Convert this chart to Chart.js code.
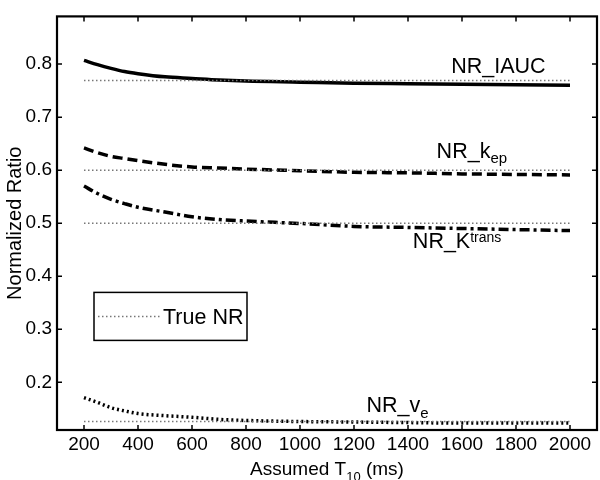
<!DOCTYPE html>
<html>
<head>
<meta charset="utf-8">
<script src="https://cdn.jsdelivr.net/npm/chart.js@4.4.1/dist/chart.umd.min.js"></script>
<style>
  body { margin: 0; background: #fff; }
  #c { display: block; }
</style>
</head>
<body>
<canvas id="c" width="600" height="480"></canvas>
<script>
// assumed T10 values (ms)
const t10 = [200, 250, 300, 350, 400, 500, 600, 700, 800, 1000, 1200, 1400, 1600, 1800, 2000];
const nrIAUC   = [0.807, 0.799, 0.792, 0.786, 0.782, 0.776, 0.773, 0.770, 0.768, 0.766, 0.764, 0.763, 0.762, 0.761, 0.760];
const nrKep    = [0.642, 0.633, 0.626, 0.622, 0.618, 0.611, 0.606, 0.604, 0.602, 0.599, 0.596, 0.595, 0.593, 0.592, 0.591];
const nrKtrans = [0.570, 0.556, 0.545, 0.537, 0.530, 0.521, 0.512, 0.507, 0.504, 0.4995, 0.494, 0.492, 0.490, 0.488, 0.486];
const nrVe     = [0.171, 0.162, 0.152, 0.146, 0.141, 0.137, 0.134, 0.130, 0.128, 0.126, 0.125, 0.124, 0.123, 0.123, 0.123];

// true normalized ratios
const trueX  = [200, 2000];
const trueNR = [0.769, 0.600, 0.500, 0.126];

const xTicks = [200, 400, 600, 800, 1000, 1200, 1400, 1600, 1800, 2000];
const yTicks = [0.2, 0.3, 0.4, 0.5, 0.6, 0.7, 0.8];

const FONT = '"Liberation Sans", Arial, sans-serif';

function pts(ys) {
    return t10.map((x, i) => ({x: x, y: ys[i]}));
}

function curve(label, ys, dash, width) {
    return {
        label: label,
        data: pts(ys),
        borderColor: '#000',
        borderWidth: width,
        borderDash: dash,
        pointRadius: 0,
        cubicInterpolationMode: 'monotone',
        fill: false
    };
}

const datasets = trueNR.map((v, i) => ({
    label: 'True NR ' + i,
    data: trueX.map(x => ({x: x, y: v})),
    borderColor: '#777',
    borderWidth: 1.5,
    borderDash: [1.5, 2.5],
    pointRadius: 0,
    fill: false
}));
datasets.push(curve('NR_IAUC', nrIAUC, [], 3.5));
datasets.push(curve('NR_kep', nrKep, [10, 5], 3.5));
datasets.push(curve('NR_Ktrans', nrKtrans, [10, 4, 3, 4], 3.5));
datasets.push(curve('NR_ve', nrVe, [2, 3], 3.5));

// text pieces with sub/superscripts, placed in data coordinates
const notes = [
    {x: 1560, y: 0.783, parts: [{t: 'NR_IAUC', s: 21.5}]},
    {x: 1506, y: 0.623, parts: [{t: 'NR_k', s: 21.5}, {t: 'ep', s: 15, dy: 5}]},
    {x: 1418, y: 0.453, parts: [{t: 'NR_K', s: 21.5}, {t: 'trans', s: 14, dy: -6}]},
    {x: 1246, y: 0.1442, parts: [{t: 'NR_v', s: 21.5}, {t: 'e', s: 15, dy: 6}]}
];

function drawRich(ctx, parts, x, y, align) {
    let w = 0;
    parts.forEach(p => {
        ctx.font = p.s + 'px ' + FONT;
        p.w = ctx.measureText(p.t).width;
        w += p.w;
    });
    let cx = align === 'center' ? x - w / 2 : x;
    parts.forEach(p => {
        ctx.font = p.s + 'px ' + FONT;
        ctx.fillText(p.t, cx, y + (p.dy || 0));
        cx += p.w;
    });
}

const frame = {
    id: 'frame',
    afterDraw(chart) {
        const ctx = chart.ctx;
        const a = chart.chartArea;
        const xs = chart.scales.x, ys = chart.scales.y;
        ctx.save();
        ctx.strokeStyle = '#000';
        ctx.lineWidth = 2.2;
        ctx.strokeRect(a.left, a.top, a.right - a.left, a.bottom - a.top);
        // inward ticks
        ctx.lineWidth = 1.5;
        ctx.beginPath();
        xs.ticks.forEach(t => {
            const px = xs.getPixelForValue(t.value);
            ctx.moveTo(px, a.bottom); ctx.lineTo(px, a.bottom - 5);
            ctx.moveTo(px, a.top); ctx.lineTo(px, a.top + 5);
        });
        ys.ticks.forEach(t => {
            const py = ys.getPixelForValue(t.value);
            ctx.moveTo(a.left, py); ctx.lineTo(a.left + 5, py);
            ctx.moveTo(a.right, py); ctx.lineTo(a.right - 5, py);
        });
        ctx.stroke();

        ctx.fillStyle = '#000';
        ctx.textBaseline = 'alphabetic';
        notes.forEach(n => {
            drawRich(ctx, n.parts, xs.getPixelForValue(n.x), ys.getPixelForValue(n.y), 'left');
        });

        // x axis title with subscript
        drawRich(ctx, [{t: 'Assumed T', s: 19}, {t: '10', s: 13, dy: 6}, {t: ' (ms)', s: 19}],
            (a.left + a.right) / 2, 475, 'center');

        // legend box
        const lx = a.left + 37, ly = a.top + 276;
        ctx.lineWidth = 1.5;
        ctx.strokeRect(lx, ly, 153, 48);
        ctx.strokeStyle = '#777';
        ctx.setLineDash([1.5, 2.5]);
        ctx.beginPath();
        ctx.moveTo(lx + 4, ly + 24);
        ctx.lineTo(lx + 68, ly + 24);
        ctx.stroke();
        ctx.setLineDash([]);
        ctx.font = '21.5px ' + FONT;
        ctx.fillText('True NR', lx + 69, ly + 32);
        ctx.restore();
    }
};

const chart = new Chart(document.getElementById('c').getContext('2d'), {
    type: 'line',
    data: {datasets: datasets},
    options: {
        responsive: false,
        animation: false,
        layout: {padding: {top: 2, right: 3, left: 0, bottom: 0}},
        plugins: {legend: {display: false}, tooltip: {enabled: false}},
        scales: {
            x: {
                type: 'linear',
                min: 100,
                max: 2100,
                grid: {display: false, drawTicks: false},
                border: {display: false},
                ticks: {color: '#000', font: {family: FONT, size: 19}, padding: 3, maxRotation: 0,
                    autoSkip: false, callback: v => String(v)},
                afterBuildTicks: s => { s.ticks = xTicks.map(v => ({value: v})); },
                afterFit: s => { s.height = 50; }
            },
            y: {
                min: 0.11,
                max: 0.89,
                grid: {display: false, drawTicks: false},
                border: {display: false},
                ticks: {color: '#000', font: {family: FONT, size: 19}, padding: 5,
                    callback: v => v.toFixed(1)},
                afterBuildTicks: s => { s.ticks = yTicks.map(v => ({value: v})); },
                afterFit: s => { s.width = 57; },
                title: {display: true, text: 'Normalized Ratio', color: '#000',
                    font: {family: FONT, size: 20}, padding: {top: 3, bottom: 0}}
            }
        }
    },
    plugins: [frame]
});
</script>
</body>
</html>
